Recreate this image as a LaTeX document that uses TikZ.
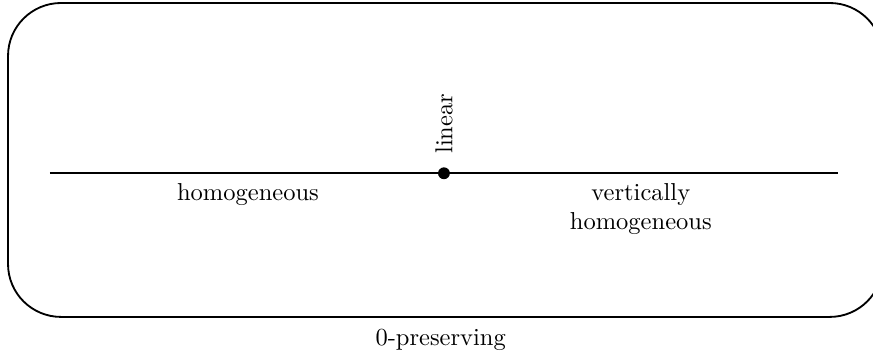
\documentclass[tikz,border=0pt]{standalone}
\usepackage{amsmath, amssymb}
\begin{document}
\begin{tikzpicture}[line width=0.75pt]
	\useasboundingbox (0,0) rectangle (12.52,5.076);
	\draw [rounded corners=0.76cm] (0.115,0.531) rectangle (12.66,5.033);
	\node (pres) at (6.32,0.2) {0-preserving};
	\coordinate (left) at (0.717,2.591);
	\coordinate (right) at (12.02,2.591);
	\draw [line width=0.85pt] (left) -- (right);
	\node [circle, fill, inner sep=0pt, minimum size=0.17cm] (lin) at (6.367,2.591) {};
	\node [text=black, rotate=90, anchor=west] (linlabel) at ([yshift=1.5pt]lin.north) {linear};
	\node [text=black] (hom) at (3.556,2.29) {homogeneous};
	\node [text=black, align=center] (vhom) at (9.19,2.08) {vertically\\homogeneous};
\end{tikzpicture}
\end{document}
